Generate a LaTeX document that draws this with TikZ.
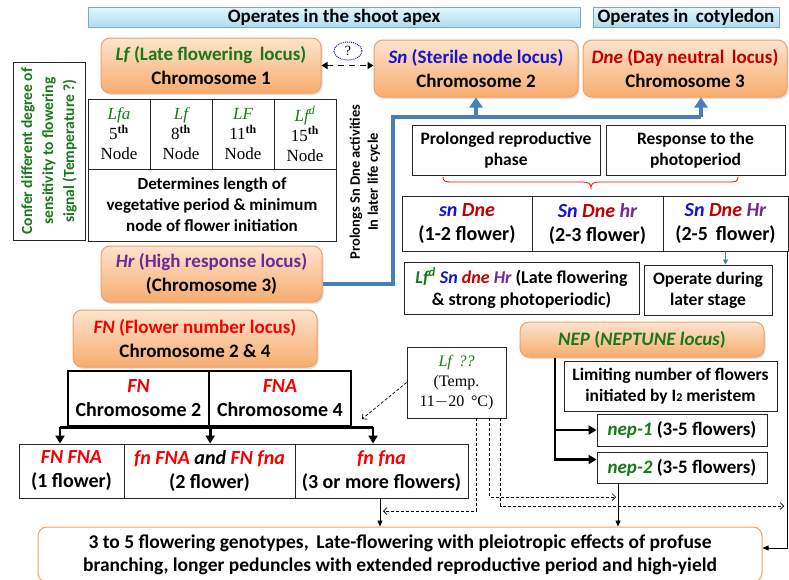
\documentclass[tikz,border=0pt]{standalone}
\usepackage{fontspec}
\newfontfamily\carl{Carlito}
\newfontfamily\serf{Liberation Serif}
\usetikzlibrary{arrows.meta,calc,shapes.geometric,shadows}
\definecolor{dgreen}{RGB}{25,120,25}
\definecolor{sblue}{RGB}{20,20,210}
\definecolor{dred}{RGB}{192,0,0}
\definecolor{bred}{RGB}{245,0,0}
\definecolor{purp}{RGB}{112,40,150}
\definecolor{orT}{RGB}{253,228,206}
\definecolor{orB}{RGB}{247,172,110}
\definecolor{orD}{RGB}{240,160,100}
\definecolor{cyT}{RGB}{228,246,252}
\definecolor{cyB}{RGB}{172,222,240}
\definecolor{cyD}{RGB}{125,170,195}
\definecolor{lblue}{RGB}{72,125,190}
\tikzset{
  every node/.style={font=\carl\bfseries\fontsize{19}{24}\selectfont, align=center, inner sep=0pt},
  obox/.style={draw=orD, line width=1pt, rounded corners=9pt, top color=orT, bottom color=orB,
    drop shadow={opacity=0.25, shadow xshift=1.5pt, shadow yshift=-2pt}},
  wbox/.style={draw=black!85, line width=0.9pt, fill=white},
  hbar/.style={draw=cyD, line width=0.8pt, top color=cyT, bottom color=cyB},
  cell/.style={wbox, minimum width=62, minimum height=70, font=\serf\fontsize{17}{20}\selectfont},
  thkbox/.style={draw=black, line width=2.4pt, fill=white},
  thkline/.style={line width=2.6pt},
  thkarrow/.style={line width=2.6pt, -{Triangle[width=9pt,length=8pt]}},
  dsh/.style={dashed, line width=0.7pt, dash pattern=on 3pt off 2pt, -{Straight Barb[length=3.5pt,width=7pt]}},
  bline/.style={draw=lblue, line width=4.5pt},
  barrow/.style={draw=lblue, line width=4.5pt, -{Triangle[width=13pt,length=10pt]}},
  tarrow/.style={line width=0.7pt, -{Triangle[width=5pt,length=6pt]}},
  fm/.style={font=\carl\bfseries\fontsize{17.5}{21}\selectfont},
  fg/.style={font=\carl\bfseries\fontsize{20}{24}\selectfont},
}
\begin{document}
\begin{tikzpicture}[x=1pt,y=-1pt]
\path[use as bounding box] (0,0) rectangle (789,579);
\fill[white] (0,0) rectangle (789,579);

% header bars
\node[hbar, minimum width=492, minimum height=20] (hA) at (334,17) {Operates in the shoot apex};
\node[hbar, minimum width=186, minimum height=20] (hB) at (686,17) {Operates in\, cotyledon};

% orange locus boxes
\node[obox, minimum width=220, minimum height=55] (lf) at (211,65.5)
  {\textcolor{dgreen}{\itshape Lf} \textcolor{dgreen}{(Late flowering\, locus)}\\ Chromosome 1};
\node[obox, minimum width=204, minimum height=57] (sn) at (476,68.5)
  {\textcolor{sblue}{\itshape Sn} \textcolor{sblue}{(Sterile node locus)}\\ Chromosome 2};
\node[obox, minimum width=204, minimum height=57] (dne) at (685,68.5)
  {\textcolor{dred}{\itshape Dne} \textcolor{dred}{(Day neutral\, locus)}\\ Chromosome 3};
\node[obox, minimum width=221, minimum height=56] (hr) at (211.5,274)
  {\textcolor{purp}{\itshape Hr} \textcolor{purp}{(High response locus)}\\ (Chromosome 3)};
\node[obox, minimum width=244, minimum height=57] (fn) at (195,338.5)
  {\textcolor{bred}{\itshape FN} \textcolor{bred}{(Flower number locus)}\\ Chromosome 2 \& 4};
\node[obox, minimum width=244, minimum height=35] (nep) at (642,339.5)
  {\textcolor{dgreen}{\itshape NEP} \textcolor{dgreen}{(\textit{NEPTUNE locus})}};

% question link between Lf and Sn
\node[draw=sblue, densely dotted, line width=1pt, ellipse, minimum width=28, minimum height=18, font=\serf\fontsize{14}{14}\selectfont] (q) at (348,51) {?};
\draw[line width=1.8pt, dash pattern=on 6pt off 5pt, {Triangle[width=7pt,length=6pt]}-{Triangle[width=7pt,length=6pt]}] (lf.east) -- (lf.east -| sn.west);

% left rotated box
\node[wbox, minimum width=72, minimum height=178] (conf) at (49,151) {};
\node[rotate=90, text=dgreen, font=\carl\bfseries\fontsize{15.5}{21}\selectfont] (conft) at (conf.center) {Confer different degree of\\ sensitivity to flowering\\ signal (Temperature ?)};

% Lf table
\node[cell] (t1) at (119,134) {\textcolor{dgreen}{\itshape Lfa}\\ 5\textsuperscript{\bfseries th}\\ Node};
\node[cell] (t2) at (181,134) {\textcolor{dgreen}{\itshape Lf}\\ 8\textsuperscript{\bfseries th}\\ Node};
\node[cell] (t3) at (243,134) {\textcolor{dgreen}{\itshape LF}\\ 11\textsuperscript{\bfseries th}\\ Node};
\node[cell] (t4) at (305,134) {\textcolor{dgreen}{\itshape Lf\textsuperscript{d}}\\ 15\textsuperscript{\bfseries th}\\ Node};
\node[wbox, minimum width=248, minimum height=72, font=\carl\bfseries\fontsize{17}{21}\selectfont] (det) at (212,205)
  {Determines length of\\ vegetative period \& minimum\\ node of flower initiation};

% prolongs text
\node[rotate=90, font=\carl\bfseries\fontsize{14.5}{18}\selectfont] (prl) at (365,182) {Prolongs Sn Dne activities\\ In later life cycle};

% blue path
\coordinate (bx) at (393,0);
\coordinate (by) at (0,117);
\draw[bline] ([yshift=-10pt]hr.east) -| (bx |- by) -- ([xshift=16pt]dne.south |- by);
\draw[barrow] (sn.south |- by) -- (sn.south);
\draw[barrow] ([xshift=16pt]dne.south |- by) -- ([xshift=16pt]dne.south);

% right mid boxes
\node[wbox, minimum width=188, minimum height=50, fm] (prp) at (506,150) {Prolonged reproductive\\ phase};
\node[wbox, minimum width=179, minimum height=50, fm] (resp) at (695.5,150) {Response to the\\ photoperiod};
\draw[red, line width=0.8pt] (443,177) .. controls (443,181) and (445,182) .. (451,182) -- (583,182) .. controls (589,182) and (591,184) .. (591,188) .. controls (591,184) and (593,182) .. (599,182) -- (730,182) .. controls (736,182) and (738,181) .. (738,177);

% genotype cells
\node[wbox, minimum width=130, minimum height=55, fg] (g1) at (467,223.5)
  {\itshape\textcolor{sblue}{sn} \textcolor{dred}{Dne}\\ \upshape (1-2 flower)};
\node[wbox, minimum width=131, minimum height=55, fg] (g2) at (597.5,223.5)
  {\itshape\textcolor{sblue}{Sn} \textcolor{dred}{Dne} \textcolor{purp}{hr}\\ \upshape (2-3 flower)};
\node[wbox, minimum width=125, minimum height=55, fg] (g3) at (725.5,223.5)
  {\itshape\textcolor{sblue}{Sn} \textcolor{dred}{Dne} \textcolor{purp}{Hr}\\ \upshape (2-5\, flower)};

\node[wbox, minimum width=235, minimum height=52, font=\carl\bfseries\fontsize{18}{22}\selectfont] (lfd) at (521.5,288)
  {\textcolor{dgreen}{\itshape Lf\textsuperscript{d}} \textcolor{sblue}{\itshape Sn} \textcolor{dred}{\itshape dne} \textcolor{purp}{\itshape Hr} (Late flowering\\ \& strong photoperiodic)};
\node[wbox, minimum width=128, minimum height=50, fm] (opr) at (708,290) {Operate during\\ later stage};
\draw[draw=lblue, line width=0.8pt, -{Triangle[width=5pt,length=5pt]}] (g3.south) -- (g3.south |- opr.north);

% NEP branch
\node[wbox, minimum width=213, minimum height=50, fm] (lim) at (670.5,386)
  {Limiting number of flowers\\ initiated by I{\fontsize{12}{12}\selectfont 2} meristem};
\node[wbox, minimum width=170, minimum height=32] (nep1) at (682,430) {\textcolor{dgreen}{\itshape nep-1} (3-5 flowers)};
\node[wbox, minimum width=170, minimum height=31] (nep2) at (682,467.5) {\textcolor{dgreen}{\itshape nep-2} (3-5 flowers)};
\coordinate (nx) at (555,0);
\draw[thkline] (nep.south -| nx) -- ([yshift=8pt]nep2.west -| nx);
\draw[thkarrow] (nep.south -| nx) |- (nep1.west);
\draw[thkarrow] (nep.south -| nx) |- ([yshift=8pt]nep2.west);

% FN table
\node[thkbox, minimum width=141, minimum height=55, fg] (f1) at (138.5,398.5)
  {\textcolor{bred}{\itshape FN}\\ Chromosome 2};
\node[thkbox, minimum width=142, minimum height=55, fg] (f2) at (280,398.5)
  {\textcolor{bred}{\itshape FNA}\\ Chromosome 4};
\node[wbox, minimum width=105, minimum height=54, fg] (c1) at (71.5,471)
  {\textcolor{bred}{\itshape FN FNA}\\ (1 flower)};
\node[wbox, minimum width=171, minimum height=54, fg] (c2) at (209.5,471)
  {\textcolor{bred}{\itshape fn FNA} {\itshape and} \textcolor{bred}{\itshape FN fna}\\ (2 flower)};
\node[wbox, minimum width=173, minimum height=54, fg] (c3) at (381.5,471)
  {\textcolor{bred}{\itshape fn fna}\\ (3 or more flowers)};
\coordinate (ax1) at (60,0);
\coordinate (ax3) at (373,0);
\draw[thkline] (f1.south -| ax1) -- (f2.south -| ax3);
\draw[thkarrow] (f1.south -| ax1) -- (c1.north -| ax1);
\draw[thkarrow] (f1.south east) -- (f1.south east |- c2.north);
\draw[thkarrow] (f2.south -| ax3) -- (c3.north -| ax3);

% Lf ?? box
\node[wbox, minimum width=99, minimum height=71, font=\serf\fontsize{16}{20}\selectfont] (lfq) at (456.5,382.5)
  {\textcolor{dgreen}{\itshape Lf\, ??}\\ (Temp.\\ 11$-$20 \,°C)};
\coordinate (da) at (362,419);
\draw[dsh] (lfq.west) -- (da);

% bottom box
\node[draw=orD, line width=1pt, rounded corners=9pt, fill=white, minimum width=724, minimum height=55, font=\carl\bfseries\fontsize{19.5}{23}\selectfont] (bot) at (400,554.5)
  {3 to 5 flowering genotypes,\, Late-flowering with pleiotropic effects of profuse\\ branching, longer peduncles with extended reproductive period and high-yield};

% thin solid arrows into bottom
\coordinate (s1) at (380,0);
\coordinate (s2) at (618,0);
\draw[tarrow] (c3.south -| s1) -- (bot.north -| s1);
\draw[tarrow] (nep2.south -| s2) -- (bot.north -| s2);
\draw[tarrow] ([xshift=-1pt]g3.south east) |- ([yshift=6.5pt]bot.east);

% dashed from Lf ??
\coordinate (e1) at (383,511);
\coordinate (e2) at (616,497);
\coordinate (e3) at (784,506);
\draw[dsh] ($(lfq.south west)+(70,0)$) |- (e1);
\draw[dsh] ($(lfq.south west)+(83,0)$) |- (e2);
\draw[dsh] ($(lfq.south west)+(94,0)$) |- (e3);
\end{tikzpicture}
\end{document}
